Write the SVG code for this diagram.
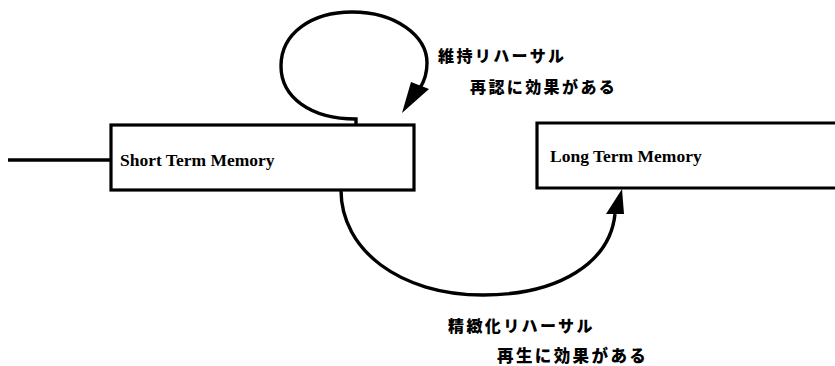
<svg xmlns="http://www.w3.org/2000/svg" width="835" height="366" viewBox="0 0 835 366">
<style>
.box{fill:#fff;stroke:#000;stroke-width:3.2}
.lbl{font-family:"Liberation Serif","Times New Roman",serif;font-weight:bold;font-size:17.5px;fill:#000}
.jp{font-family:"Noto Sans CJK JP","Noto Sans CJK SC",sans-serif;font-weight:900;font-size:16px;fill:#000;letter-spacing:2.4px}
.con{fill:none;stroke:#000;stroke-width:3.4;stroke-linecap:butt}
.head{fill:#000;stroke:none}
</style>
<rect width="835" height="366" fill="#fff"/>
<g id="stm">
<rect class="box" x="111" y="125" width="303" height="65"/>
<text class="lbl" x="120" y="166">Short Term Memory</text>
</g>
<g id="ltm">
<path class="box" d="M840 123 L537 123 L537 188 L840 188"/>
<text class="lbl" x="550" y="162">Long Term Memory</text>
</g>
<g id="connectors">
<line class="con" x1="8" y1="160" x2="111" y2="160"/>
<path class="con" d="M356 124 L356 119 C310 119 281 97 281 66 C281 33 312 12 352 12 C396 12 427 36 427 63 C427 72 425 80 420 88"/>
<polygon class="head" points="411,82 429,89 402,113"/>
<path class="con" d="M341 190 C341 250 400 295 483 295 C560 295 610 262 615 214"/>
<polygon class="head" points="606,214 624,214 622,189"/>
</g>
<g id="labels">
<text class="jp" x="438" y="62">維持リハーサル</text>
<text class="jp" x="470" y="93">再認に効果がある</text>
<text class="jp" x="448" y="332">精緻化リハーサル</text>
<text class="jp" x="497" y="362" style="font-size:16.5px">再生に効果がある</text>
</g>
</svg>
